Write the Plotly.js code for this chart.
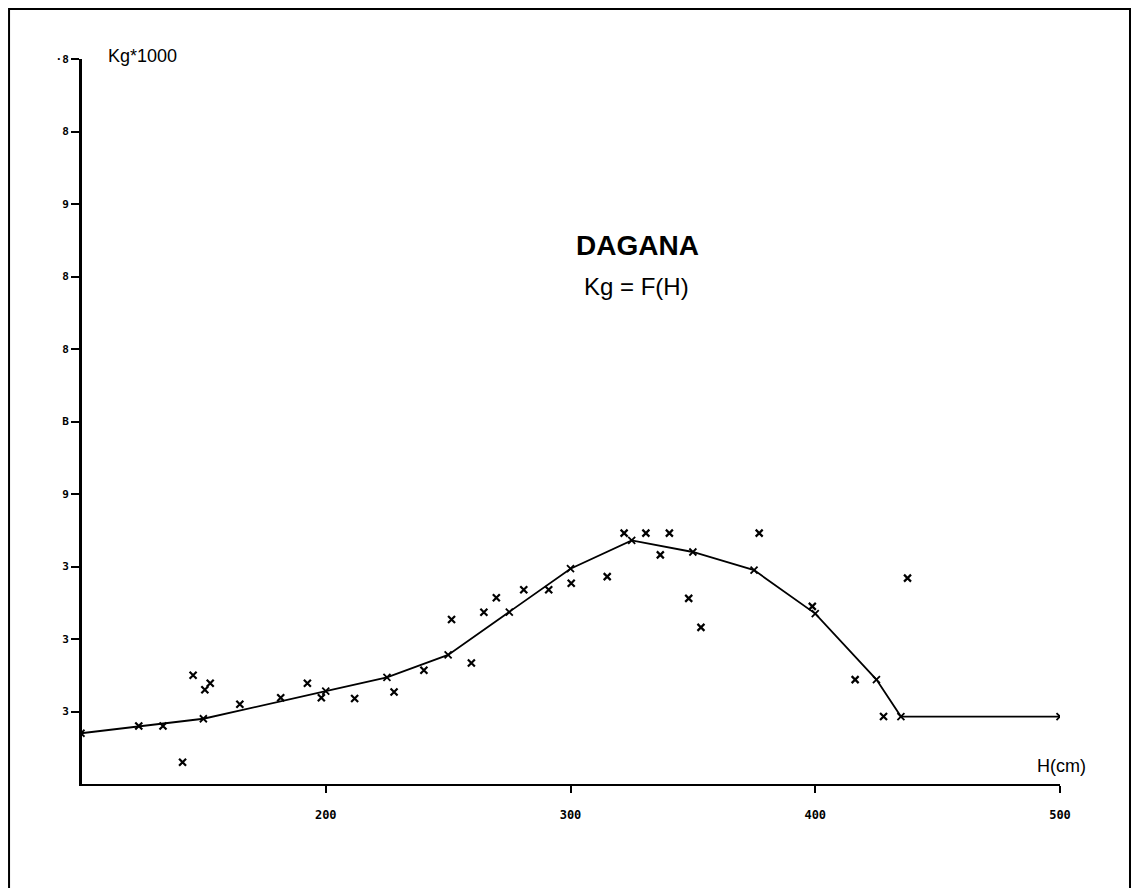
<!DOCTYPE html>
<html>
<head>
<meta charset="utf-8">
<script src="https://cdn.plot.ly/plotly-3.0.1.min.js"></script>
<style>html,body{margin:0;padding:0;background:#fff;}#chart{width:1133px;height:888px;}</style>
</head>
<body>
<div id="chart"></div>
<script>
// Fitted curve Kg = F(H)
const curveH = [100, 150, 200, 225, 250, 275, 300, 325, 350, 375, 400, 425, 435, 500];
const curveKg = [0.70, 0.90, 1.28, 1.47, 1.78, 2.37, 2.97, 3.36, 3.20, 2.95, 2.35, 1.44, 0.93, 0.93];

// Observed points
const obsH = [123.6, 133.5, 141.5, 145.8, 150.6, 152.8, 164.9, 181.6, 192.5, 198.2, 211.8, 227.9, 240.1, 251.4, 259.5, 264.6, 269.7, 280.9, 291.1, 300.3, 315.0, 321.9, 330.8, 340.4, 336.7, 348.3, 353.3, 377.1, 398.8, 437.7, 416.3, 427.9];
const obsKg = [0.80, 0.80, 0.30, 1.50, 1.30, 1.39, 1.10, 1.19, 1.39, 1.19, 1.18, 1.27, 1.57, 2.27, 1.67, 2.37, 2.57, 2.68, 2.68, 2.77, 2.86, 3.46, 3.46, 3.46, 3.16, 2.56, 2.16, 3.46, 2.45, 2.84, 1.44, 0.93];

// Axis ticks (labels as printed)
const yTickVals = [1, 2, 3, 4, 5, 6, 7, 8, 9, 10];
const yTickText = ["3", "3", "3", "9", "B", "8", "8", "9", "8", "·8"];
const xTickVals = [200, 300, 400, 500];
const xTickText = ["200", "300", "400", "500"];

const traces = [
  {
    x: curveH, y: curveKg, type: 'scatter', mode: 'lines+markers',
    line: {color: '#000', width: 1.8},
    marker: {symbol: 'x-thin', size: 7, color: '#000', line: {color: '#000', width: 1.8}},
    hoverinfo: 'skip', showlegend: false
  },
  {
    x: obsH, y: obsKg, type: 'scatter', mode: 'markers',
    marker: {symbol: 'x-thin', size: 7, color: '#000', line: {color: '#000', width: 2.2}},
    hoverinfo: 'skip', showlegend: false
  }
];

const layout = {
  width: 1133, height: 888,
  margin: {l: 81, r: 73, t: 59, b: 104},
  paper_bgcolor: '#fff', plot_bgcolor: '#fff',
  showlegend: false,
  font: {family: 'Liberation Sans, Arial, sans-serif', color: '#000'},
  xaxis: {
    range: [100, 500], showgrid: false, zeroline: false,
    showline: true, linecolor: '#000', linewidth: 2,
    ticks: 'outside', ticklen: 7, tickwidth: 2, tickcolor: '#000',
    tickvals: xTickVals, ticktext: xTickText,
    ticklabelstandoff: 12,
    tickfont: {family: 'DejaVu Sans Mono, monospace', size: 12, color: '#000', weight: 'bold'}
  },
  yaxis: {
    range: [0, 10], showgrid: false, zeroline: false,
    showline: true, linecolor: '#000', linewidth: 2,
    ticks: 'outside', ticklen: 8, tickwidth: 2, tickcolor: '#000',
    tickvals: yTickVals, ticktext: yTickText,
    tickfont: {family: 'DejaVu Sans Mono, monospace', size: 11, color: '#000', weight: 'bold'}
  },
  shapes: [
    {type: 'rect', xref: 'paper', yref: 'paper', x0: -0.0735, x1: 1.0715, y0: -0.16, y1: 1.069,
     line: {color: '#000', width: 2}, fillcolor: 'rgba(0,0,0,0)'},
    {type: 'line', xref: 'paper', yref: 'paper', x0: 0, x1: 0, y0: 0, y1: 1,
     line: {color: '#000', width: 2}}
  ],
  annotations: [
    {text: '<b>DAGANA</b>', xref: 'paper', yref: 'paper', x: (637 - 81) / 979, y: (784 - 245) / 725, showarrow: false,
     xanchor: 'center', yanchor: 'middle', font: {size: 28, color: '#000', family: 'Liberation Sans, Arial, sans-serif'}},
    {text: 'Kg = F(H)', xref: 'paper', yref: 'paper', x: (636 - 81) / 979, y: (784 - 286) / 725, showarrow: false,
     xanchor: 'center', yanchor: 'middle', font: {size: 24, color: '#000', family: 'Liberation Sans, Arial, sans-serif'}},
    {text: 'Kg*1000', xref: 'paper', yref: 'paper', x: (106 - 81) / 979, y: (784 - 56) / 725, showarrow: false,
     xanchor: 'left', yanchor: 'middle', font: {size: 18, color: '#000', family: 'Liberation Sans, Arial, sans-serif'}},
    {text: 'H(cm)', xref: 'paper', yref: 'paper', x: (1061 - 81) / 979, y: (784 - 766) / 725, showarrow: false,
     xanchor: 'center', yanchor: 'middle', font: {size: 18, color: '#000', family: 'Liberation Sans, Arial, sans-serif'}}
  ]
};

Plotly.newPlot('chart', traces, layout, {displayModeBar: false, staticPlot: true});
</script>
</body>
</html>
